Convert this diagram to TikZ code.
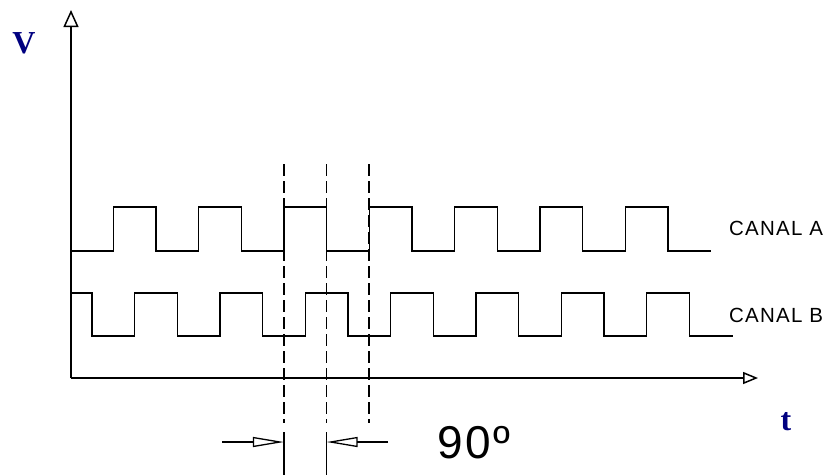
\documentclass[tikz,border=0pt]{standalone}
\usepackage{fontspec}
\setmainfont{Liberation Serif}
\newfontfamily\cadfont[LetterSpace=6]{Liberation Sans}
\usepackage{xcolor}
\usepackage{tikz}
\usetikzlibrary{arrows.meta,positioning,calc}
\definecolor{axisnavy}{HTML}{000080}

\begin{document}
\begin{tikzpicture}[x=1pt, y=-1pt,
    signal/.style={draw=black, line width=1.5pt},
    axisline/.style={draw=black, line width=1.5pt},
    guide/.style={draw=black, line width=1.5pt, dash pattern=on 12pt off 5pt},
    dimline/.style={draw=black, line width=1.3pt, -{Triangle[open, length=31pt, width=10pt]}},
    axislabel/.style={font=\bfseries\fontsize{32}{33}\selectfont\color{axisnavy}, inner sep=0pt},
    chanlabel/.style={font=\cadfont\fontsize{20.5}{21}\selectfont, inner sep=0pt, anchor=west}
]
    \useasboundingbox (0,0) rectangle (824,475);

    % Axes
    \coordinate (origin) at (71,378);
    \coordinate (ytip) at (71,10);
    \coordinate (xtip) at (758,378);
    \draw[axisline, -{Triangle[open, length=17pt, width=15pt]}] (origin) -- (ytip);
    \draw[axisline, -{Triangle[open, length=15pt, width=12pt]}] (origin) -- (xtip);
    \node[axislabel] (vlabel) at (24,43) {V};
    \node[axislabel] (tlabel) at (786,422) {t};

    % Canal A
    \draw[signal] (71,251) \foreach \k in {0,...,6} {
        -- ({113.3+85.33*\k},251) -- ({113.3+85.33*\k},207)
        -- ({156+85.33*\k},207) -- ({156+85.33*\k},251) } -- (710.7,251);
    \node[chanlabel] (canala) at (729,228) {CANAL A};

    % Canal B
    \draw[signal] (71,293) -- (92,293) -- (92,336) \foreach \k in {0,...,6} {
        -- ({134.7+85.33*\k},336) -- ({134.7+85.33*\k},293)
        -- ({177.3+85.33*\k},293) -- ({177.3+85.33*\k},336) } -- (732.7,336);
    \node[chanlabel] (canalb) at (729,315) {CANAL B};

    % Guide lines
    \coordinate (g1top) at (283.9,164);
    \coordinate (g2top) at (326.6,164);
    \coordinate (g3top) at (369.2,164);
    \draw[guide] (g1top) -- (283.9,423);
    \draw[guide] (g2top) -- (326.6,423);
    \draw[guide] (g3top) -- (369.2,423);
    \draw[axisline] (283.9,432) -- (283.9,475);
    \draw[axisline] (326.6,432) -- (326.6,475);

    % Phase dimension
    \coordinate (dimL) at (222,442);
    \coordinate (dimR) at (388,442);
    \draw[dimline] (dimL) -- (283.9,442);
    \draw[dimline] (dimR) -- (326.6,442);
    \node[chanlabel, font=\cadfont\fontsize{46}{46}\selectfont] (phase) at (437,443) {90º};
\end{tikzpicture}
\end{document}
